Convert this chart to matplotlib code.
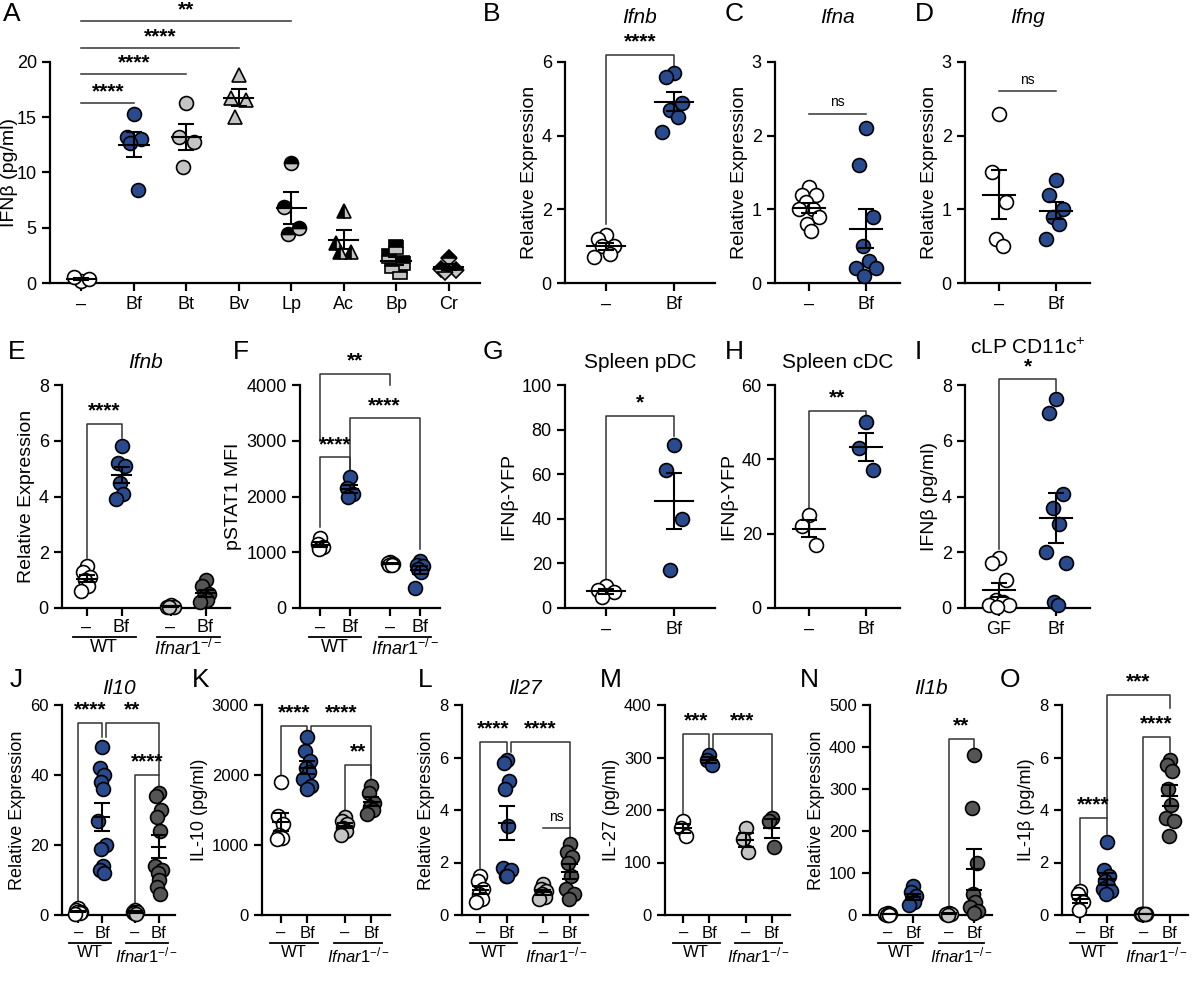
import numpy as np
import matplotlib.pyplot as plt

plt.rcParams['font.family'] = ['Liberation Sans', 'DejaVu Sans']
plt.rcParams['mathtext.fontset'] = 'custom'
plt.rcParams['mathtext.rm'] = 'Liberation Sans'
plt.rcParams['mathtext.it'] = 'Liberation Sans:italic'
plt.rcParams['axes.linewidth'] = 1.6
plt.rcParams['xtick.major.width'] = 1.6
plt.rcParams['ytick.major.width'] = 1.6
plt.rcParams['xtick.labelsize'] = 13
plt.rcParams['ytick.labelsize'] = 13

BLUE = '#2a4a8e'
LG = '#c4c4c4'
DG = '#555555'
W = 'white'

# ---- data ----
a_cats = ['–', 'Bf', 'Bt', 'Bv', 'Lp', 'Ac', 'Bp', 'Cr']
a_vals = [[0.2, 0.5, 0.4], [15.3, 13.2, 13.0, 12.7, 8.4], [16.3, 13.2, 12.8, 10.5],
          [18.8, 16.7, 16.6, 15.0], [10.9, 6.9, 5.0, 4.4], [6.5, 3.6, 2.8, 2.8],
          [3.3, 2.4, 1.8, 1.5, 1.0], [2.3, 1.3, 1.2, 1.0]]
b_vals = [[1.3, 1.2, 1.0, 1.0, 0.8, 0.7], [5.7, 5.6, 4.9, 4.7, 4.5, 4.1]]
c_vals = [[1.3, 1.2, 1.2, 1.1, 1.0, 1.0, 0.9, 0.8, 0.7], [2.1, 1.6, 0.9, 0.5, 0.3, 0.2, 0.2, 0.1]]
d_vals = [[2.3, 1.5, 1.1, 0.6, 0.5], [1.4, 1.2, 1.0, 0.9, 0.8, 0.6]]
e_vals = [[1.5, 1.3, 1.1, 1.0, 0.8, 0.6], [5.8, 5.2, 5.1, 4.5, 4.1, 3.9],
          [0.1, 0.05, 0.05, 0.05], [1.0, 0.8, 0.5, 0.4, 0.3, 0.2]]
f_vals = [[1250, 1150, 1100, 1050], [2350, 2150, 2050, 2000],
          [820, 800, 790, 780, 770], [850, 780, 750, 700, 650, 350]]
g_vals = [[10, 8, 7, 5], [73, 62, 40, 17]]
h_vals = [[25, 22, 17], [50, 43, 37]]
i_vals = [[1.8, 1.6, 1.0, 0.3, 0.2, 0.1, 0.1, 0.05], [7.5, 7.0, 4.1, 3.6, 3.0, 2.0, 1.6, 0.2, 0.1]]
j_vals = [[2, 1.5, 1, 0.8, 0.5, 0.3], [48, 42, 40, 38, 36, 27, 20, 19, 14, 13, 12],
          [1.5, 1, 0.8, 0.5, 0.3], [35, 34, 30, 28, 24, 14, 13, 12, 10, 8, 6]]
k_vals = [[1900, 1420, 1300, 1150, 1100, 1080], [2550, 2350, 2200, 2100, 2050, 1950, 1850, 1800],
          [1400, 1350, 1300, 1250, 1200, 1150], [1850, 1750, 1600, 1550, 1500, 1450]]
l_vals = [[1.5, 1.3, 1.0, 0.8, 0.6, 0.5], [5.9, 5.8, 5.1, 4.8, 3.4, 1.8, 1.7, 1.5, 1.5],
          [1.2, 1.0, 0.9, 0.8, 0.7, 0.6], [2.7, 2.4, 2.2, 2.0, 1.5, 1.0, 0.8, 0.6]]
m_vals = [[180, 165, 150], [305, 295, 285], [165, 145, 120], [185, 180, 130]]
n_vals = [[5, 3, 2, 1, 1], [70, 55, 45, 35, 30, 25], [5, 3, 2, 1], [380, 255, 125, 50, 30, 20, 10, 5]]
o_vals = [[0.9, 0.8, 0.5, 0.2], [2.8, 1.7, 1.5, 1.3, 1.1, 1.0, 0.9, 0.8],
          [0.05, 0.05, 0.05, 0.05, 0.05], [5.9, 5.7, 5.5, 4.8, 4.2, 3.7, 3.6, 3.0]]

fig = plt.figure(figsize=(12, 9.97), dpi=100)


def px(l, t, r, b):
    return fig.add_axes([l / 1200, 1 - b / 997, (r - l) / 1200, (b - t) / 997])


def offsets(n, w):
    pat = [0, -1, 1, -0.5, 0.5, -1.5, 1.5, -0.25, 0.25, -0.75, 0.75]
    return np.array([pat[i % len(pat)] for i in range(n)]) * w


def dots(ax, x, vals, fc, marker='o', w=0.12, ms=10, fill='full', alt=LG):
    v = np.array(vals, float)
    ax.plot(x + offsets(len(v), w), v, ls='none', marker=marker, ms=ms, mfc=fc,
            mec='black', mew=1.2, fillstyle=fill, markerfacecoloralt=alt, zorder=3, clip_on=False)
    m = v.mean()
    se = v.std(ddof=1) / np.sqrt(len(v))
    ax.plot([x - 0.28, x + 0.28], [m, m], color='black', lw=1.5, zorder=4)
    ax.errorbar(x, m, yerr=se, color='black', capsize=6, capthick=1.5, lw=1.5, zorder=4)


def bracket(ax, x1, x2, y, y1, y2, txt, fs=15):
    ax.plot([x1, x1, x2, x2], [y1, y, y, y2], color='#333333', lw=1.1, clip_on=False)
    ylo, yhi = ax.get_ylim()
    if txt == 'ns':
        ax.text((x1 + x2) / 2, y + 0.02 * (yhi - ylo), txt, ha='center', va='bottom', fontsize=10)
    else:
        ax.text((x1 + x2) / 2, y + 0.015 * (yhi - ylo), txt, ha='center', va='bottom',
                fontsize=fs, fontweight='bold')


def style(ax, ylim, ticks, ylabel, title=None, letter=None, lpos=(-0.35, 1.2), pad=12, it=True):
    ax.spines['top'].set_visible(False)
    ax.spines['right'].set_visible(False)
    ax.set_ylim(ylim)
    ax.set_yticks(ticks)
    ax.set_ylabel(ylabel, fontsize=14, labelpad=3)
    ax.tick_params(length=6)
    if title:
        ax.set_title(title, fontsize=15, pad=pad, style='italic' if it else 'normal')
    if letter:
        ax.text(lpos[0], lpos[1], letter, transform=ax.transAxes, fontsize=19, va='top')


def two(ax, vals, cols, labels=('–', 'Bf')):
    for i, (v, c) in enumerate(zip(vals, cols)):
        dots(ax, i, v, c)
    ax.set_xlim(-0.6, 1.6)
    ax.set_xticks([0, 1])
    ax.set_xticklabels(labels)


def four(ax, vals, cols=(W, BLUE, LG, DG), fs_lab=13, dy=0.13):
    xs = [0, 1, 2.4, 3.4]
    for x, v, c in zip(xs, vals, cols):
        dots(ax, x, v, c, w=0.1)
    ax.set_xlim(-0.7, 4.1)
    ax.set_xticks(xs)
    ax.set_xticklabels(['–', 'Bf', '–', 'Bf'])
    ax.tick_params(axis='x', pad=2)
    tr = ax.get_xaxis_transform()
    for a, b, lab in [(-0.4, 1.4, 'WT'), (2.0, 3.8, r'$\mathit{Ifnar1}^{-/-}$')]:
        ax.plot([a, b], [-dy, -dy], color='black', lw=1.3, transform=tr, clip_on=False)
        ax.text((a + b) / 2, -dy - 0.01, lab, transform=tr, ha='center', va='top', fontsize=fs_lab)
    return xs


# A
ax = px(50, 62, 480, 283)
mk = ['o', 'o', 'o', '^', 'o', '^', 's', 'D']
fc = [W, BLUE, LG, LG, 'black', 'black', 'black', 'black']
fills = ['full', 'full', 'full', 'full', 'top', 'left', 'top', 'top']
for i, v in enumerate(a_vals):
    dots(ax, i, v, fc[i], marker=mk[i], w=0.14, ms=10 if mk[i] != 'D' else 8, fill=fills[i])
ax.set_xlim(-0.6, 7.6)
ax.set_xticks(range(8))
ax.set_xticklabels(a_cats)
style(ax, (0, 20), [0, 5, 10, 15, 20], 'IFNβ (pg/ml)', letter='A', lpos=(-0.11, 1.27))
ax.yaxis.set_label_coords(-0.075, 0.5)
for xe, yl, t in [(1, 16.3, '****'), (2, 18.9, '****'), (3, 21.3, '****'), (4, 23.7, '**')]:
    ax.plot([0, xe], [yl, yl], color='#333333', lw=1.1, clip_on=False)
    ax.text(xe / 2, yl + 0.15, t, ha='center', va='bottom', fontsize=15, fontweight='bold')

# B
ax = px(565, 62, 715, 283)
two(ax, b_vals, [W, BLUE])
style(ax, (0, 6), [0, 2, 4, 6], 'Relative Expression', 'Ifnb', 'B', (-0.55, 1.27), pad=28)
bracket(ax, 0, 1, 6.2, 1.6, 5.9, '****')
# C
ax = px(775, 62, 900, 283)
two(ax, c_vals, [W, BLUE])
style(ax, (0, 3), [0, 1, 2, 3], 'Relative Expression', 'Ifna', 'C', (-0.4, 1.27), pad=28)
bracket(ax, 0, 1, 2.3, 2.3, 2.3, 'ns')
# D
ax = px(965, 62, 1090, 283)
two(ax, d_vals, [W, BLUE])
style(ax, (0, 3), [0, 1, 2, 3], 'Relative Expression', 'Ifng', 'D', (-0.4, 1.27), pad=28)
bracket(ax, 0, 1, 2.6, 2.6, 2.6, 'ns')

# E
ax = px(62, 385, 230, 608)
xs = four(ax, e_vals, dy=0.13)
style(ax, (0, 8), [0, 2, 4, 6, 8], 'Relative Expression', 'Ifnb', 'E', (-0.32, 1.2))
bracket(ax, xs[0], xs[1], 6.6, 1.8, 6.1, '****')
# F
ax = px(300, 385, 440, 608)
xs = four(ax, f_vals, cols=(W, BLUE, W, BLUE), dy=0.13)
style(ax, (0, 4000), [0, 1000, 2000, 3000, 4000], 'pSTAT1 MFI', letter='F', lpos=(-0.48, 1.2))
bracket(ax, xs[0], xs[1], 2700, 1450, 2450, '****')
bracket(ax, xs[1], xs[3], 3400, 2500, 1050, '****')
bracket(ax, xs[0], xs[2], 4200, 3000, 4000, '**')
# G
ax = px(565, 385, 715, 608)
two(ax, g_vals, [W, BLUE])
style(ax, (0, 100), [0, 20, 40, 60, 80, 100], 'IFNβ-YFP', 'Spleen pDC', 'G', (-0.55, 1.2), it=False)
bracket(ax, 0, 1, 86, 12, 77, '*')
# H
ax = px(775, 385, 900, 608)
two(ax, h_vals, [W, BLUE])
style(ax, (0, 60), [0, 20, 40, 60], 'IFNβ-YFP', 'Spleen cDC', 'H', (-0.4, 1.2), it=False)
bracket(ax, 0, 1, 53, 27, 51, '**')
# I
ax = px(965, 385, 1090, 608)
two(ax, i_vals, [W, BLUE], ('GF', 'Bf'))
style(ax, (0, 8), [0, 2, 4, 6, 8], 'IFNβ (pg/ml)', r'cLP CD11c$^{+}$', 'I', (-0.4, 1.2), pad=22, it=False)
bracket(ax, 0, 1, 8.2, 2.1, 7.8, '*')

# J-O
specs = [
    ((62, 705, 175, 915), j_vals, (0, 60), [0, 20, 40, 60], 'Relative Expression', 'Il10', 'J', 10),
    ((262, 705, 390, 915), k_vals, (0, 3000), [0, 1000, 2000, 3000], 'IL-10 (pg/ml)', None, 'K', 192),
    ((462, 705, 588, 915), l_vals, (0, 8), [0, 2, 4, 6, 8], 'Relative Expression', 'Il27', 'L', 418),
    ((665, 705, 790, 915), m_vals, (0, 400), [0, 100, 200, 300, 400], 'IL-27 (pg/ml)', None, 'M', 600),
    ((870, 705, 992, 915), n_vals, (0, 500), [0, 100, 200, 300, 400, 500], 'Relative Expression', 'Il1b', 'N', 800),
    ((1062, 705, 1188, 915), o_vals, (0, 8), [0, 2, 4, 6, 8], 'IL-1β (pg/ml)', None, 'O', 1000),
]
axs = []
for pos, vals, yl, tk, lab, tit, let, lx in specs:
    ax = px(*pos)
    xs = four(ax, vals, fs_lab=12, dy=0.135)
    style(ax, yl, tk, lab, tit, pad=8)
    fig.text(lx / 1200, 1 - 668 / 997, let, fontsize=19, va='top')
    ax.tick_params(labelsize=12)
    ax.yaxis.label.set_size(13)
    axs.append((ax, xs))

ax, xs = axs[0]
bracket(ax, xs[0], xs[1], 55, 3, 51, '****')
bracket(ax, xs[1] + 0.15, xs[3], 55, 51, 40, '**')
bracket(ax, xs[2], xs[3], 40, 3, 37, '****')
ax, xs = axs[1]
bracket(ax, xs[0], xs[1], 2700, 2000, 2600, '****')
bracket(ax, xs[1] + 0.15, xs[3], 2700, 2600, 2000, '****')
bracket(ax, xs[2], xs[3], 2150, 1500, 1950, '**')
ax, xs = axs[2]
bracket(ax, xs[0], xs[1], 6.6, 1.8, 6.2, '****')
bracket(ax, xs[1] + 0.15, xs[3], 6.6, 6.2, 2.9, '****')
bracket(ax, xs[2], xs[3], 3.3, 3.3, 3.3, 'ns')
ax, xs = axs[3]
bracket(ax, xs[0], xs[1], 345, 190, 315, '***')
bracket(ax, xs[1] + 0.15, xs[3], 345, 315, 195, '***')
ax, xs = axs[4]
bracket(ax, xs[2], xs[3], 420, 10, 395, '**')
ax, xs = axs[5]
bracket(ax, xs[0], xs[1], 3.7, 1.1, 3.7, '****')
bracket(ax, xs[2], xs[3], 6.8, 0.3, 6.2, '****')
bracket(ax, xs[1], xs[3], 8.4, 3.1, 7.9, '***')

fig.savefig('out.png', dpi=100)
